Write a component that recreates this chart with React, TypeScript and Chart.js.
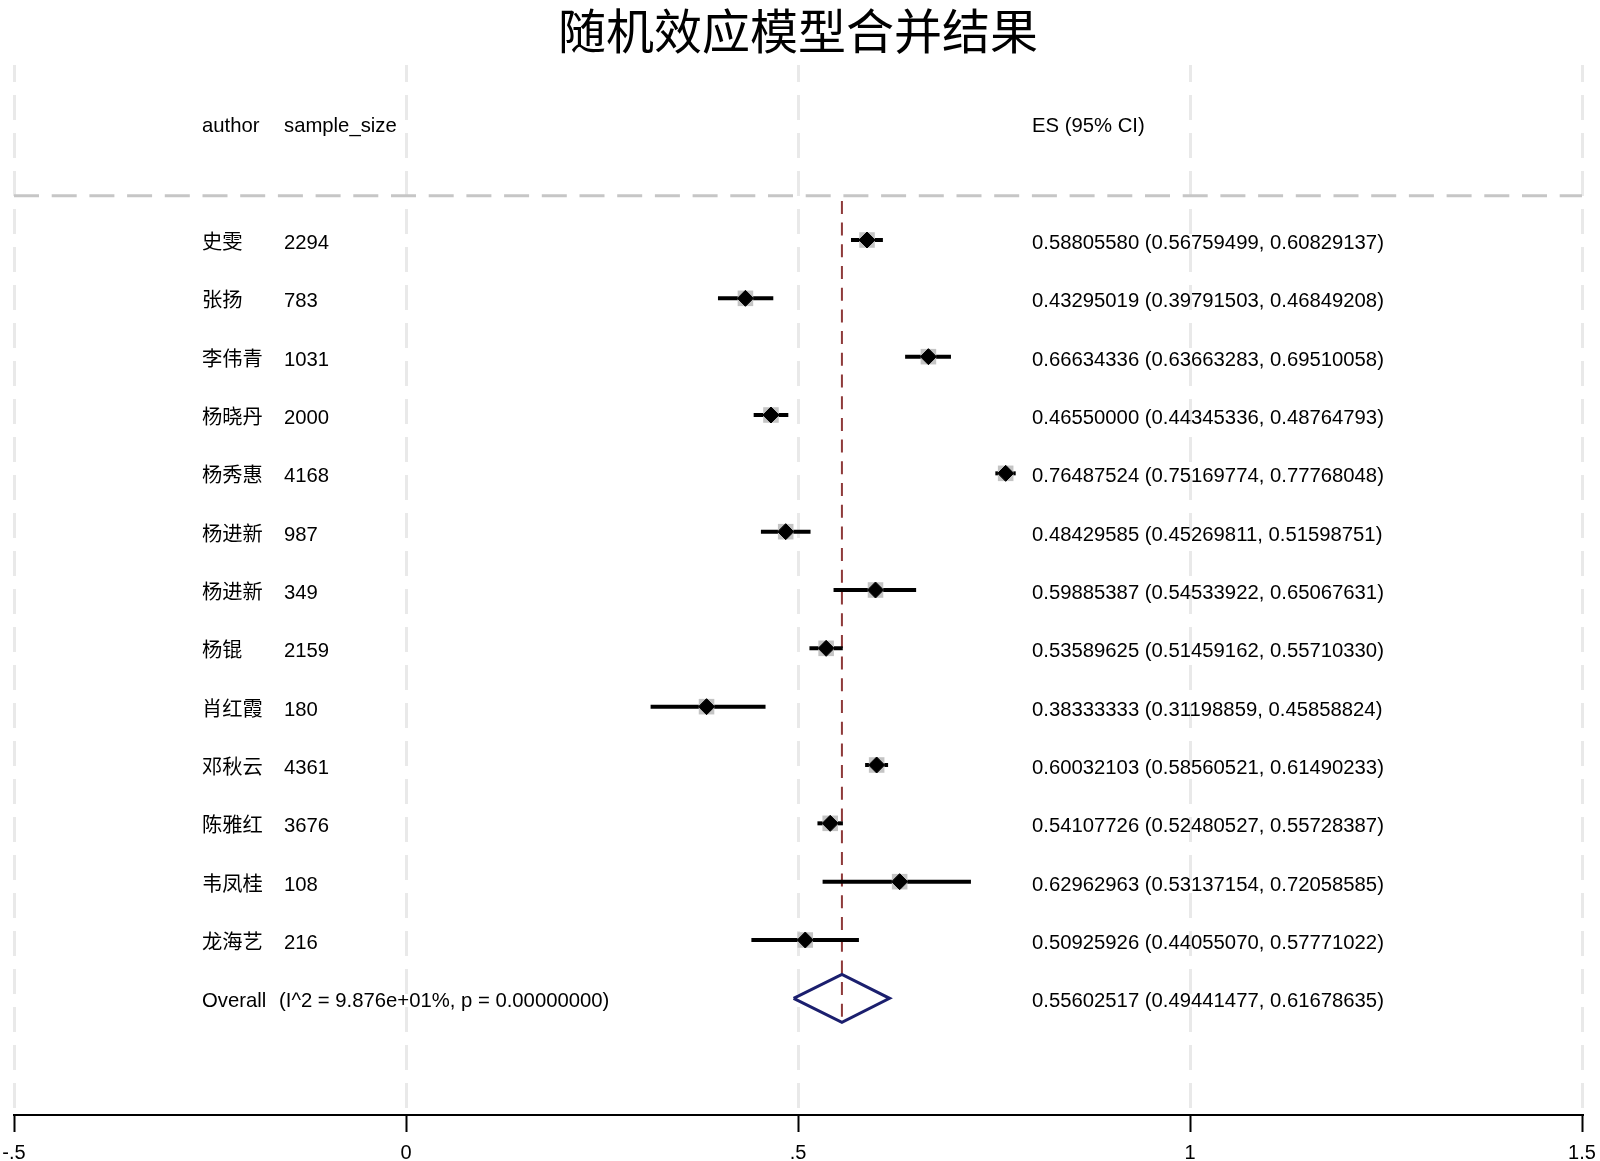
import React, { useEffect, useRef } from 'react';
import { Chart, registerables } from 'chart.js';

Chart.register(...registerables);

// ---------- data ----------
const TITLE = '随机效应模型合并结果';
const headerLabels = ['author', 'sample_size', 'ES (95% CI)'];
const authors = ['史雯', '张扬', '李伟青', '杨晓丹', '杨秀惠', '杨进新', '杨进新', '杨锟', '肖红霞', '邓秋云', '陈雅红', '韦凤桂', '龙海艺'];
const sampleSizes = [2294, 783, 1031, 2000, 4168, 987, 349, 2159, 180, 4361, 3676, 108, 216];
const effectSizes = [0.58805580, 0.43295019, 0.66634336, 0.46550000, 0.76487524, 0.48429585, 0.59885387, 0.53589625, 0.38333333, 0.60032103, 0.54107726, 0.62962963, 0.50925926];
const ciLower = [0.56759499, 0.39791503, 0.63663283, 0.44345336, 0.75169774, 0.45269811, 0.54533922, 0.51459162, 0.31198859, 0.58560521, 0.52480527, 0.53137154, 0.44055070];
const ciUpper = [0.60829137, 0.46849208, 0.69510058, 0.48764793, 0.77768048, 0.51598751, 0.65067631, 0.55710330, 0.45858824, 0.61490233, 0.55728387, 0.72058585, 0.57771022];
const overallLabel = 'Overall';
const overallStats = '(I^2 = 9.876e+01%, p = 0.00000000)';
const overallES = 0.55602517;
const overallLower = 0.49441477;
const overallUpper = 0.61678635;
const tickValues = [-0.5, 0, 0.5, 1, 1.5];
const tickLabels = ['-.5', '0', '.5', '1', '1.5'];

// ---------- layout constants (not data) ----------
const X_MIN = -0.5;
const X_MAX = 1.5;
const Y_MIN = -1;
const Y_MAX = 17;
const HEADER_ROW = 0;
const HEADER_LINE_ROW = 1.24;
const FIRST_ROW = 2;
const OVERALL_ROW = FIRST_ROW + authors.length;
const DIAMOND_HALF = 0.41;
const REF_TOP = 1.33;
const COL_AUTHOR = -0.2602;
const COL_SIZE = -0.1556;
const COL_STATS = -0.162;
const COL_ES = 0.7985;
const TEXT_DY = 3.5;

const SANS = "'Liberation Sans', Arial, Helvetica, 'Noto Sans CJK SC', sans-serif";

const fmt = (v: number) => v.toFixed(8);

const textPlugin = {
  id: 'forestText',
  afterDatasetsDraw(chart: any) {
    const { ctx } = chart;
    const xs = chart.scales.x;
    const ys = chart.scales.y;
    ctx.save();
    ctx.fillStyle = '#000';
    ctx.font = `20.3px ${SANS}`;
    ctx.textBaseline = 'middle';
    ctx.textAlign = 'left';
    const put = (s: string, xv: number, yv: number) =>
      ctx.fillText(s, xs.getPixelForValue(xv), ys.getPixelForValue(yv) + TEXT_DY);
    put(headerLabels[0], COL_AUTHOR, HEADER_ROW);
    put(headerLabels[1], COL_SIZE, HEADER_ROW);
    put(headerLabels[2], COL_ES, HEADER_ROW);
    authors.forEach((a, i) => {
      const r = FIRST_ROW + i;
      put(a, COL_AUTHOR, r);
      put(String(sampleSizes[i]), COL_SIZE, r);
      put(`${fmt(effectSizes[i])} (${fmt(ciLower[i])}, ${fmt(ciUpper[i])})`, COL_ES, r);
    });
    put(overallLabel, COL_AUTHOR, OVERALL_ROW);
    put(overallStats, COL_STATS, OVERALL_ROW);
    put(`${fmt(overallES)} (${fmt(overallLower)}, ${fmt(overallUpper)})`, COL_ES, OVERALL_ROW);
    ctx.restore();
  },
};

export default function App() {
  const ref = useRef<HTMLCanvasElement | null>(null);

  useEffect(() => {
    if (!ref.current) return;
    const lineBase = { showLine: true, pointRadius: 0, pointHoverRadius: 0, tension: 0, fill: false };

    const ciSets = authors.map((_, i) => ({
      ...lineBase,
      data: [
        { x: ciLower[i], y: FIRST_ROW + i },
        { x: ciUpper[i], y: FIRST_ROW + i },
      ],
      borderColor: '#000',
      borderWidth: 4,
      borderCapStyle: 'butt',
      order: 3,
    }));

    const points = effectSizes.map((v, i) => ({ x: v, y: FIRST_ROW + i }));

    const chart = new Chart(ref.current, {
      type: 'scatter',
      data: {
        datasets: [
          {
            ...lineBase,
            data: [
              { x: X_MIN, y: HEADER_LINE_ROW },
              { x: X_MAX, y: HEADER_LINE_ROW },
            ],
            borderColor: '#c6c6c6',
            borderWidth: 3,
            borderDash: [25, 12.7],
            order: 5,
          },
          {
            ...lineBase,
            data: [
              { x: overallES, y: REF_TOP },
              { x: overallES, y: OVERALL_ROW + DIAMOND_HALF },
            ],
            borderColor: '#8e3a3a',
            borderWidth: 2,
            borderDash: [13, 8.7],
            order: 4,
          },
          ...ciSets,
          {
            data: points,
            pointStyle: 'rect',
            pointRadius: 11,
            pointHoverRadius: 11,
            backgroundColor: '#c4c4c4',
            borderWidth: 0,
            order: 2,
          },
          {
            data: points,
            pointStyle: 'rectRot',
            pointRadius: 8,
            pointHoverRadius: 8,
            backgroundColor: '#000',
            borderColor: '#000',
            borderWidth: 1,
            order: 1,
          },
          {
            ...lineBase,
            data: [
              { x: overallLower, y: OVERALL_ROW },
              { x: overallES, y: OVERALL_ROW - DIAMOND_HALF },
              { x: overallUpper, y: OVERALL_ROW },
              { x: overallES, y: OVERALL_ROW + DIAMOND_HALF },
              { x: overallLower, y: OVERALL_ROW },
            ],
            borderColor: '#1b1f6e',
            borderWidth: 3,
            borderJoinStyle: 'miter',
            order: 0,
          },
        ] as any,
      },
      options: {
        responsive: false,
        animation: false,
        events: [],
        layout: { padding: { left: 14, right: 18, top: 0, bottom: 26 } },
        plugins: {
          legend: { display: false },
          tooltip: { enabled: false },
          title: {
            display: true,
            text: TITLE,
            color: '#000',
            font: { family: "'Noto Sans CJK SC', sans-serif", size: 48, weight: 'normal', lineHeight: 1.2 },
            padding: { top: 2, bottom: 5.4 },
          },
        },
        scales: {
          x: {
            type: 'linear',
            min: X_MIN,
            max: X_MAX,
            afterBuildTicks: (scale: any) => {
              scale.ticks = tickValues.map((v) => ({ value: v }));
            },
            ticks: {
              callback: (v: any) => {
                const k = tickValues.indexOf(Number(v));
                return k >= 0 ? tickLabels[k] : '';
              },
              color: '#000',
              font: { family: SANS, size: 20, lineHeight: 2.1 },
              padding: 0,
              maxRotation: 0,
              autoSkip: false,
            },
            grid: {
              color: '#e9e9e9',
              lineWidth: 3,
              tickColor: '#000',
              tickWidth: 2,
              tickLength: 17,
              drawOnChartArea: true,
            },
            border: { display: true, color: '#000', width: 2, dash: [25, 13], dashOffset: 8 },
          },
          y: {
            type: 'linear',
            min: Y_MIN,
            max: Y_MAX,
            reverse: true,
            display: false,
          },
        },
      } as any,
      plugins: [textPlugin],
    });
    return () => chart.destroy();
  }, []);

  return (
    <div style={{ position: 'fixed', left: 0, top: 0, width: 1600, height: 1200, background: '#fff' }}>
      <canvas ref={ref} width={1600} height={1200} style={{ width: 1600, height: 1200, display: 'block' }} />
    </div>
  );
}
